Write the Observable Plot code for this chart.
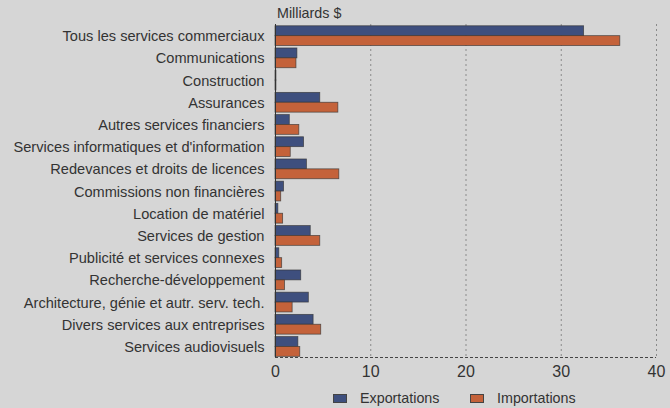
<!DOCTYPE html>
<html><head><meta charset="utf-8">
<script src="https://cdn.jsdelivr.net/npm/d3@7"></script>
<script src="https://cdn.jsdelivr.net/npm/@observablehq/plot@0.6"></script>
<style>
html,body{margin:0;padding:0;background:#d6d6d6;}
body{width:670px;height:408px;overflow:hidden;font-family:"Liberation Sans",Arial,sans-serif;color:#333;position:relative;}
#chart svg{display:block;background:#d6d6d6;}
#unit{position:absolute;left:277px;top:5px;font-size:14.3px;}
#legend{position:relative;height:20px;font-size:14.3px;}
#legend .it{position:absolute;top:2px;display:flex;align-items:center;}
#legend .sw{width:14px;height:9px;border:1px solid #444;box-sizing:border-box;margin-right:13px;}
</style></head>
<body>
<div id="chart"></div>
<div id="legend"></div>
<div id="unit">Milliards $</div>
<script>
const categories = ["Tous les services commerciaux","Communications","Construction","Assurances","Autres services financiers","Services informatiques et d'information","Redevances et droits de licences","Commissions non financières","Location de matériel","Services de gestion","Publicité et services connexes","Recherche-développement","Architecture, génie et autr. serv. tech.","Divers services aux entreprises","Services audiovisuels"];
const exportations = [32.4,2.3,0.1,4.7,1.5,3.0,3.3,0.9,0.3,3.7,0.4,2.7,3.5,4.0,2.4];
const importations = [36.2,2.2,0.1,6.6,2.5,1.6,6.7,0.6,0.8,4.7,0.7,1.0,1.8,4.8,2.6];
const seriesNames = ["Exportations","Importations"];
const colors = ["#3e4f7e","#c4623a"];
const xTicks = [0,10,20,30,40];
const gridTicks = [10,20,30,40];

// each category occupies one unit band on a linear y scale; the two series split it
const data = [];
categories.forEach((c,i)=>{
  data.push({cat:c, serie:seriesNames[0], v:exportations[i], y1:i+0.08, y2:i+0.525});
  data.push({cat:c, serie:seriesNames[1], v:importations[i], y1:i+0.525, y2:i+0.97});
});
const rowCenters = categories.map((c,i)=>i+0.5);

const chart = Plot.plot({
  width:670, height:388,
  marginLeft:275, marginRight:14, marginTop:24, marginBottom:31,
  style:{background:"#d6d6d6", fontFamily:"Liberation Sans, Arial, sans-serif", fontSize:"14.6px", color:"#333"},
  x:{domain:[0,40], label:null},
  y:{domain:[0,categories.length], reverse:true, label:null},
  color:{domain:seriesNames, range:colors},
  marks:[
    Plot.ruleX(gridTicks, {stroke:"#8a8a8a", strokeDasharray:"2,3", strokeWidth:1}),
    Plot.rectX(data, {y1:"y1", y2:"y2", x1:0, x2:"v", fill:"serie", stroke:"#333", strokeWidth:0.8, strokeOpacity:0.75}),
    Plot.axisY({ticks:rowCenters, tickFormat:d=>categories[Math.floor(d)], tickSize:0, tickPadding:11, dy:1, label:null, fill:"#333", fontSize:14.6}),
    Plot.axisX({ticks:xTicks, tickSize:0, tickPadding:8, fontSize:16, fill:"#333", label:null}),
    Plot.ruleY([categories.length], {stroke:"#444", strokeDasharray:"3,2", strokeWidth:1}),
    Plot.ruleX([0], {stroke:"#333", strokeWidth:1})
  ]
});
document.getElementById("chart").append(chart);

const lg = document.getElementById("legend");
const lefts = [333, 470];
seriesNames.forEach((s,i)=>{
  const it = document.createElement("div");
  it.className = "it"; it.style.left = lefts[i] + "px";
  const sw = document.createElement("span"); sw.className = "sw"; sw.style.background = colors[i];
  const t = document.createElement("span"); t.textContent = s;
  it.append(sw, t); lg.append(it);
});
</script>
</body></html>
